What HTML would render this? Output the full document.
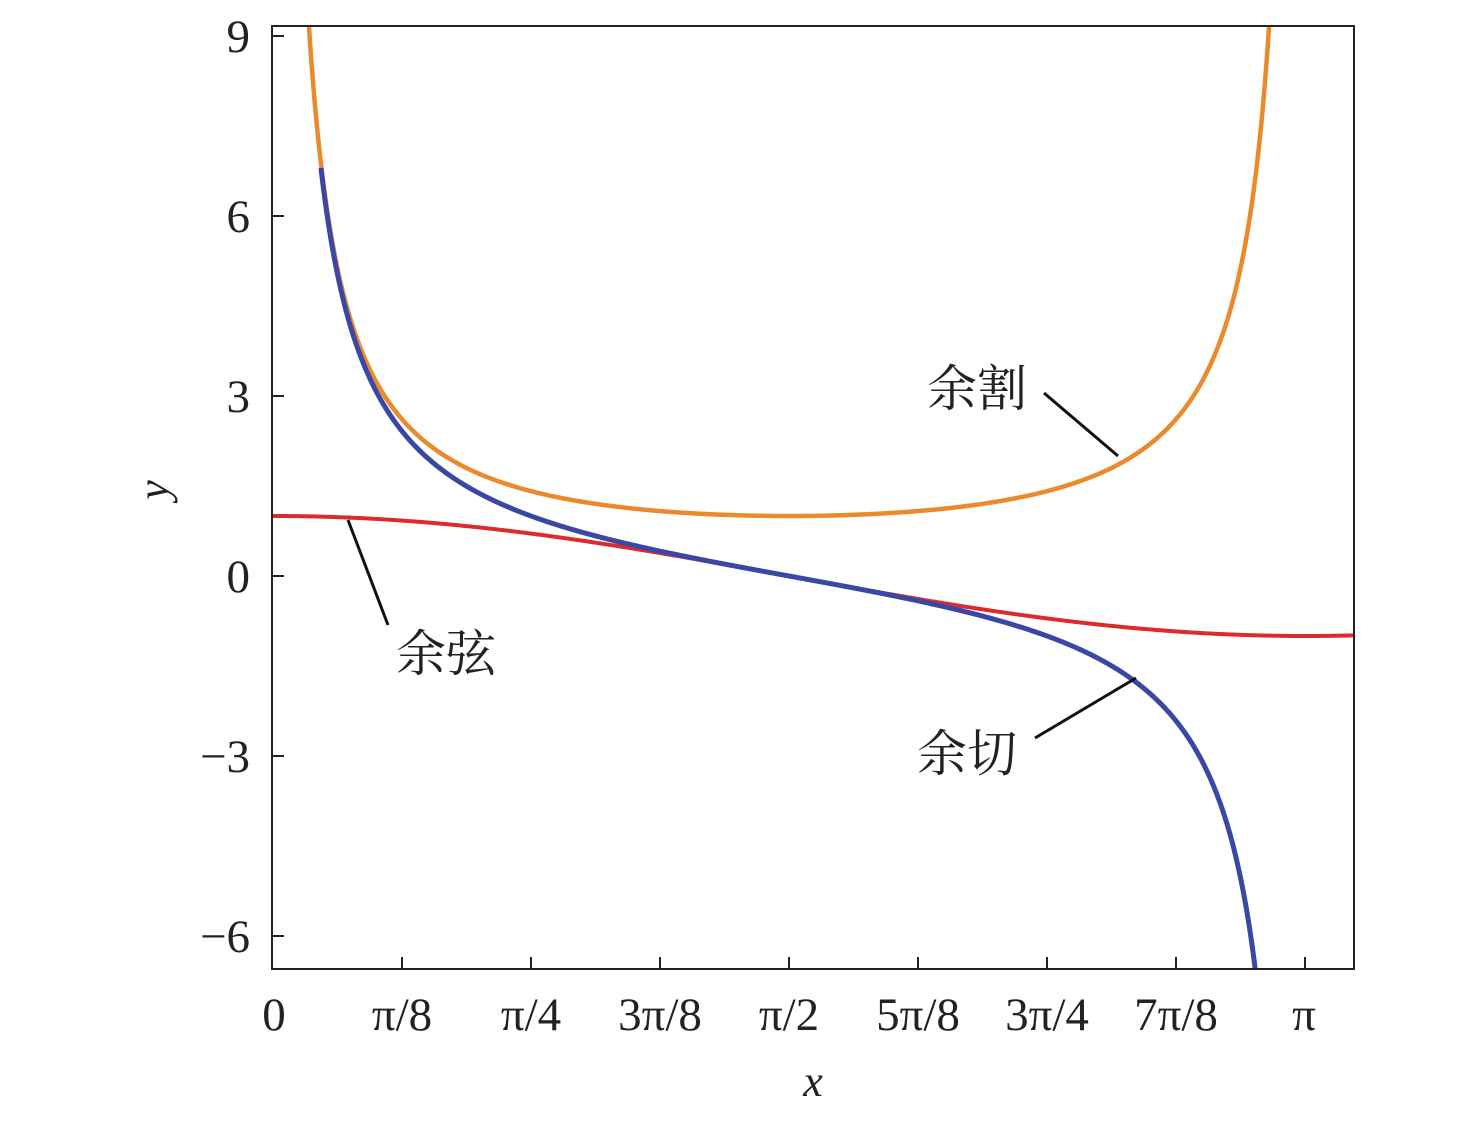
<!DOCTYPE html>
<html><head><meta charset="utf-8"><style>
html,body{margin:0;padding:0;background:#fff}
svg{display:block}
text{font-family:"Liberation Serif","Noto Serif CJK SC",serif;fill:#222}
</style></head><body>
<svg id="s" width="1476" height="1122" viewBox="0 0 1476 1122">
<defs><clipPath id="c"><rect x="272" y="26" width="1082" height="943"/></clipPath></defs>
<g clip-path="url(#c)">
<path id="cos" fill="none" stroke="#dd2a2c" stroke-width="4"/>
<path id="csc" fill="none" stroke="#ea8a2c" stroke-width="4.5"/>
<path id="cot" fill="none" stroke="#3a47a4" stroke-width="5"/>
</g>
<rect x="272" y="26" width="1082" height="943" fill="none" stroke="#222" stroke-width="2"/>
<g stroke="#222" stroke-width="2" id="ticks"></g>
<g font-size="47" text-anchor="end">
<text x="250" y="52">9</text><text x="250" y="232">6</text><text x="250" y="412">3</text>
<text x="250" y="592">0</text><text x="250" y="772">−3</text><text x="250" y="952">−6</text>
</g>
<g font-size="47" text-anchor="middle">
<text x="274" y="1030">0</text><text x="402" y="1030">π/8</text><text x="531" y="1030">π/4</text>
<text x="660" y="1030">3π/8</text><text x="789" y="1030">π/2</text><text x="918" y="1030">5π/8</text>
<text x="1047" y="1030">3π/4</text><text x="1176" y="1030">7π/8</text><text x="1304" y="1030">π</text>
</g>
<text x="813" y="1096" font-size="44" font-style="italic" text-anchor="middle">x</text>
<text x="0" y="0" font-size="44" font-style="italic" text-anchor="middle" transform="translate(168,490) rotate(-90)">y</text>
<g stroke="#111" stroke-width="3">
<line x1="1044" y1="393" x2="1118" y2="456"/>
<line x1="348" y1="520" x2="388" y2="625"/>
<line x1="1035" y1="738" x2="1136" y2="678"/>
</g>
<g font-size="50">
<text x="927" y="406">余割</text>
<text x="396" y="671">余弦</text>
<text x="917" y="771">余切</text>
</g>
</svg>
<script>
function X(t){return 273+t/(Math.PI/8)*129}
function Y(v){return 576-60*v}
function path(f,a,b){let d='';const n=800;for(let i=0;i<=n;i++){const t=a+(b-a)*i/n;d+=(i?'L':'M')+X(t).toFixed(2)+','+Y(f(t)).toFixed(2)}return d}
document.getElementById('cos').setAttribute('d',path(Math.cos,0,3.32));
document.getElementById('csc').setAttribute('d',path(t=>1/Math.sin(t),0.105,Math.PI-0.105));
document.getElementById('cot').setAttribute('d',path(t=>Math.cos(t)/Math.sin(t),0.146,Math.PI-0.148));
let g=document.getElementById('ticks'),h='';
[9,6,3,0,-3,-6].forEach(v=>{h+=`<line x1="272" x2="284" y1="${Y(v)}" y2="${Y(v)}"/>`});
for(let k=1;k<=8;k++){const x=X(k*Math.PI/8);h+=`<line x1="${x}" x2="${x}" y1="969" y2="957"/>`}
g.innerHTML=h;
</script>
</body></html>
